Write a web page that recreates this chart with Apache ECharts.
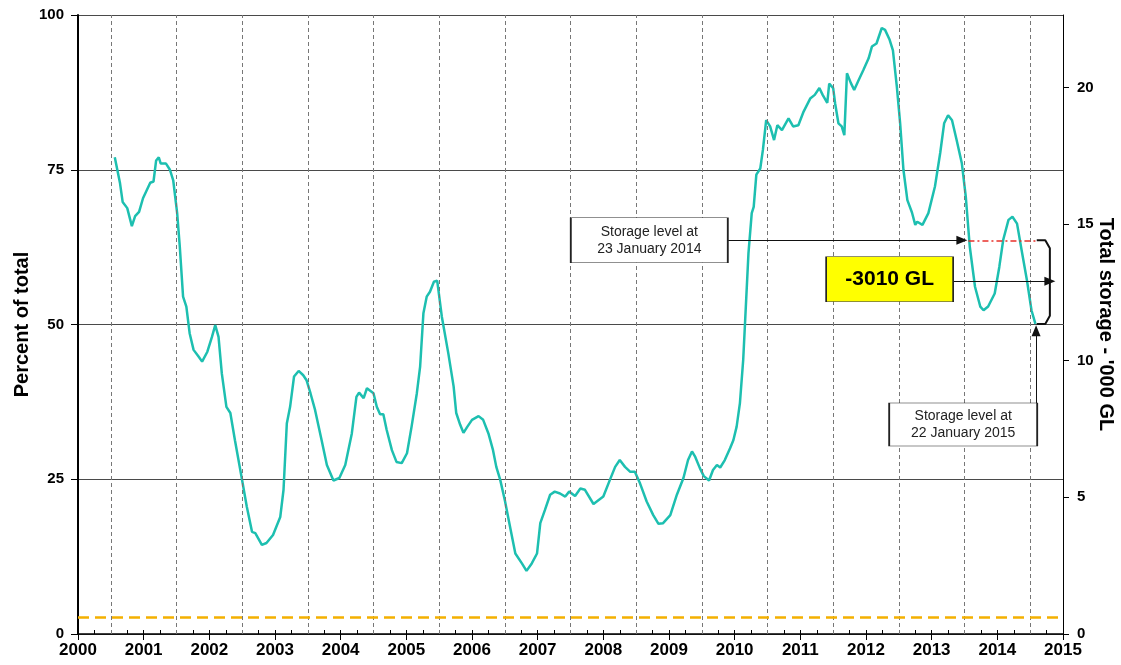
<!DOCTYPE html>
<html>
<head>
<meta charset="utf-8">
<script src="https://cdn.jsdelivr.net/npm/echarts@6/dist/echarts.min.js"></script>
<style>
  html, body { margin: 0; padding: 0; background: #fff; }
  #chart { width: 1121px; height: 665px; }
</style>
</head>
<body>
<div id="chart"></div>
<script>
// position on the time axis (decimal year as drawn) and storage in percent of total
const time = [
  2000.56, 2000.64, 2000.68, 2000.75, 2000.82, 2000.87, 2000.93, 2000.99, 2001.10, 2001.15,
  2001.19, 2001.23, 2001.26, 2001.34, 2001.40, 2001.45, 2001.51, 2001.55, 2001.60, 2001.65,
  2001.70, 2001.76, 2001.83, 2001.89, 2001.97, 2002.04, 2002.09, 2002.14, 2002.19, 2002.26,
  2002.32, 2002.39, 2002.49, 2002.57, 2002.65, 2002.70, 2002.80, 2002.87, 2002.97, 2003.08,
  2003.13, 2003.18, 2003.23, 2003.29, 2003.36, 2003.43, 2003.48, 2003.54, 2003.61, 2003.71,
  2003.79, 2003.89, 2003.98, 2004.07, 2004.17, 2004.24, 2004.28, 2004.35, 2004.40, 2004.50,
  2004.55, 2004.60, 2004.65, 2004.70, 2004.78, 2004.85, 2004.93, 2005.01, 2005.08, 2005.16,
  2005.21, 2005.26, 2005.31, 2005.36, 2005.42, 2005.47, 2005.54, 2005.64, 2005.72, 2005.76,
  2005.82, 2005.87, 2005.93, 2006.00, 2006.10, 2006.17, 2006.25, 2006.32, 2006.37, 2006.43,
  2006.50, 2006.58, 2006.66, 2006.76, 2006.83, 2006.91, 2006.99, 2007.04, 2007.11, 2007.19,
  2007.26, 2007.34, 2007.42, 2007.48, 2007.57, 2007.65, 2007.72, 2007.85, 2008.00, 2008.10,
  2008.18, 2008.25, 2008.33, 2008.41, 2008.48, 2008.56, 2008.66, 2008.76, 2008.84, 2008.91,
  2009.02, 2009.12, 2009.22, 2009.29, 2009.35, 2009.40, 2009.47, 2009.53, 2009.61, 2009.67,
  2009.73, 2009.78, 2009.85, 2009.93, 2009.98, 2010.03, 2010.08, 2010.13, 2010.16, 2010.21,
  2010.26, 2010.29, 2010.33, 2010.39, 2010.43, 2010.48, 2010.54, 2010.60, 2010.65, 2010.72,
  2010.82, 2010.89, 2010.97, 2011.05, 2011.15, 2011.22, 2011.29, 2011.34, 2011.41, 2011.44,
  2011.50, 2011.53, 2011.58, 2011.63, 2011.67, 2011.71, 2011.77, 2011.82, 2011.88, 2011.96,
  2012.04, 2012.09, 2012.16, 2012.24, 2012.29, 2012.36, 2012.41, 2012.47, 2012.52, 2012.57,
  2012.63, 2012.70, 2012.75, 2012.78, 2012.86, 2012.95, 2013.05, 2013.13, 2013.19, 2013.25,
  2013.31, 2013.38, 2013.46, 2013.52, 2013.58, 2013.66, 2013.74, 2013.79, 2013.86, 2013.96,
  2014.03, 2014.09, 2014.17, 2014.23, 2014.30, 2014.37, 2014.45, 2014.52, 2014.58
];
const percent = [
  77.0, 72.8, 69.8, 68.8, 65.9, 67.5, 68.2, 70.4, 72.9, 73.1,
  76.5, 77.0, 76.0, 76.0, 75.0, 73.3, 68.0, 62.6, 54.5, 52.9,
  48.6, 45.9, 44.9, 44.0, 45.6, 48.0, 49.9, 48.0, 42.1, 36.7,
  35.7, 31.3, 25.4, 20.6, 16.5, 16.3, 14.4, 14.7, 16.0, 18.9,
  23.3, 34.0, 36.7, 41.6, 42.5, 41.8, 41.0, 38.9, 36.2, 31.3,
  27.3, 24.8, 25.2, 27.3, 32.4, 38.3, 39.0, 38.1, 39.7, 38.9,
  36.7, 35.5, 35.5, 33.0, 29.7, 27.8, 27.6, 29.2, 33.5, 38.9,
  43.2, 51.8, 54.5, 55.3, 56.9, 57.1, 51.3, 45.3, 40.0, 35.7,
  33.8, 32.5, 33.5, 34.6, 35.2, 34.6, 32.4, 29.7, 27.0, 24.9,
  21.6, 17.3, 13.0, 11.4, 10.2, 11.4, 13.0, 17.9, 20.0, 22.5,
  23.0, 22.7, 22.2, 23.0, 22.3, 23.5, 23.3, 21.0, 22.2, 24.9,
  27.0, 28.1, 27.0, 26.2, 26.2, 24.3, 21.4, 19.2, 17.8, 17.9,
  19.2, 22.5, 25.2, 28.1, 29.5, 28.6, 26.8, 25.5, 24.8, 26.5,
  27.3, 26.9, 28.1, 30.0, 31.3, 33.5, 37.3, 44.3, 50.7, 61.5,
  68.0, 69.0, 74.2, 75.2, 78.2, 83.0, 82.0, 79.8, 82.2, 81.4,
  83.3, 82.0, 82.2, 84.4, 86.5, 87.1, 88.2, 87.1, 85.8, 88.9,
  88.2, 85.7, 82.5, 82.0, 80.6, 90.6, 89.0, 87.9, 89.3, 91.1,
  93.0, 94.9, 95.4, 97.9, 97.6, 96.0, 94.3, 88.4, 82.5, 75.0,
  70.1, 68.1, 66.1, 66.6, 66.1, 68.0, 72.3, 77.7, 82.5, 83.8,
  83.0, 79.8, 76.0, 70.6, 62.6, 56.1, 52.9, 52.3, 52.9, 55.0,
  59.3, 63.7, 66.9, 67.4, 66.3, 62.0, 57.2, 52.3, 50.1
];

const janLines = [2000.5, 2001.5, 2002.5, 2003.5, 2004.5, 2005.5, 2006.5, 2007.5,
                  2008.5, 2009.5, 2010.5, 2011.5, 2012.5, 2013.5, 2014.5];
const deadStoragePct = 2.7;
const capacityThousandGL = 22.65;
const rightTicks = [0, 5, 10, 15, 20];

// annotation anchors, in axis units
const level2014 = 63.6;
const start2014 = 2013.56;
const end2015 = 2014.60;
const braceX = [2014.60, 2014.73, 2014.80, 2014.80, 2014.73, 2014.60];
const braceY = [63.6, 63.6, 62.3, 51.4, 50.1, 50.1];

const font = '"Liberation Sans", Arial, sans-serif';

const chart = echarts.init(document.getElementById('chart'));

const boxLabel = {
  show: true, position: 'inside', color: '#222', fontFamily: font,
  fontSize: 14, lineHeight: 17
};

chart.setOption({
  animation: false,
  grid: { left: 78, right: 58, top: 15, bottom: 31, containLabel: false, outerBoundsMode: 'none' },
  xAxis: [{
    type: 'value', min: 2000, max: 2015, interval: 1,
    axisLine: { lineStyle: { color: '#000', width: 1.5 } },
    axisTick: { length: 6, lineStyle: { color: '#000' } },
    axisLabel: { color: '#000', fontWeight: 'bold', fontSize: 17, fontFamily: font, margin: 8,
                 formatter: v => String(v) },
    splitLine: { show: false }
  }, {
    type: 'value', min: 2000, max: 2015, interval: 0.25, position: 'bottom',
    axisLine: { show: false },
    axisTick: { inside: true, length: 4, lineStyle: { color: '#000' } },
    axisLabel: { show: false },
    splitLine: { show: false }
  }],
  yAxis: [{
    type: 'value', min: 0, max: 100, interval: 25,
    name: 'Percent of total', nameLocation: 'middle', nameGap: 46, nameMoveOverlap: false,
    nameTextStyle: { color: '#000', fontWeight: 'bold', fontSize: 20, fontFamily: font },
    axisLine: { show: true, lineStyle: { color: '#000', width: 2 } },
    axisTick: { show: true, length: 7, lineStyle: { color: '#000' } },
    axisLabel: { color: '#000', fontWeight: 'bold', fontSize: 15, fontFamily: font, margin: 14 },
    splitLine: { show: true, lineStyle: { color: '#4a4a4a', width: 1 } }
  }, {
    type: 'value', min: 0, max: capacityThousandGL, position: 'right',
    name: "Total storage - '000 GL", nameLocation: 'middle', nameGap: 33, nameRotate: -90,
    nameMoveOverlap: false,
    nameTextStyle: { color: '#000', fontWeight: 'bold', fontSize: 20, fontFamily: font },
    axisLine: { show: true, lineStyle: { color: '#000', width: 1 } },
    axisTick: { show: true, length: 6, customValues: rightTicks, lineStyle: { color: '#000' } },
    axisLabel: { color: '#000', fontWeight: 'bold', fontSize: 15, fontFamily: font, margin: 14,
                 customValues: rightTicks },
    splitLine: { show: false }
  }],
  series: [{
    type: 'line',
    name: 'Storage',
    data: time.map((t, i) => [t, percent[i]]),
    showSymbol: false,
    smooth: false,
    lineStyle: { color: '#1dbfb0', width: 2.5 },
    markLine: {
      silent: true,
      symbol: ['none', 'none'],
      label: { show: false },
      data: janLines.map(v => ({ xAxis: v, lineStyle: { color: '#777', width: 1, type: [4, 3] } }))
        .concat([
          { yAxis: deadStoragePct, lineStyle: { color: '#f4b000', width: 2.5, type: [11, 6] } },
          [{ coord: [start2014, level2014], lineStyle: { color: '#e8302a', width: 1.5, type: [6, 3, 2, 3] } },
           { coord: [end2015, level2014] }],
          [{ coord: [2009.90, level2014], lineStyle: { color: '#111', width: 1, type: 'solid' } },
           { coord: [2013.46, level2014], symbol: 'triangle', symbolSize: [9, 11] }],
          [{ coord: [2013.33, 57.0], lineStyle: { color: '#111', width: 1, type: 'solid' } },
           { coord: [2014.80, 57.0], symbol: 'triangle', symbolSize: [9, 11] }],
          [{ coord: [2014.59, 37.3], lineStyle: { color: '#111', width: 1, type: 'solid' } },
           { coord: [2014.59, 49.0], symbol: 'triangle', symbolSize: [9, 11] }]
        ])
    },
    markPoint: {
      silent: true,
      data: [{
        coord: [2008.70, 63.6], symbol: 'rect', symbolSize: [157, 45],
        itemStyle: { color: '#fff', borderColor: '#222', borderWidth: 1 },
        label: Object.assign({}, boxLabel, { formatter: 'Storage level at\n23 January 2014' })
      }, {
        coord: [2013.48, 33.85], symbol: 'rect', symbolSize: [148, 43],
        itemStyle: { color: '#fff', borderColor: '#222', borderWidth: 1 },
        label: Object.assign({}, boxLabel, { formatter: 'Storage level at\n22 January 2015' })
      }, {
        coord: [2012.36, 57.3], symbol: 'rect', symbolSize: [127, 45],
        itemStyle: { color: '#ffff00', borderColor: '#222', borderWidth: 1 },
        label: { show: true, position: 'inside', formatter: '-3010 GL', color: '#000',
                 fontFamily: font, fontWeight: 'bold', fontSize: 21 }
      }]
    }
  }, {
    type: 'line',
    name: 'brace',
    silent: true,
    data: braceX.map((x, i) => [x, braceY[i]]),
    showSymbol: false,
    lineStyle: { color: '#111', width: 2 }
  }]
});
window.addEventListener('resize', () => chart.resize());
</script>
</body>
</html>
